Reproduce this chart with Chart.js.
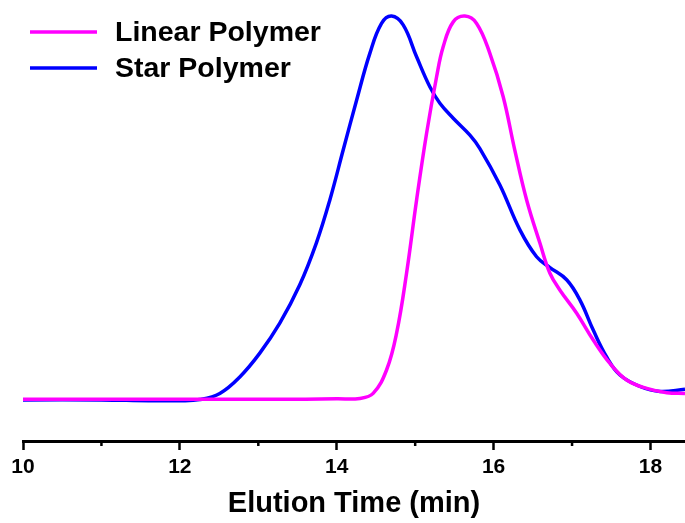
<!DOCTYPE html>
<html>
<head>
<meta charset="utf-8">
<script src="https://cdn.jsdelivr.net/npm/chart.js@4/dist/chart.umd.min.js"></script>
<style>
  html, body { margin: 0; padding: 0; background: #fff; }
  #wrap { width: 685px; height: 523px; position: relative; }
</style>
</head>
<body>
<div id="wrap"><canvas id="c" width="685" height="523"></canvas></div>
<script>
// ---- Data ----
const seriesLabels = ['Linear Polymer', 'Star Polymer'];
const seriesColors = ['#FF00FF', '#0000FF'];

const linearTime = [10.0, 11.0, 12.0, 13.0, 13.6, 14.0, 14.295, 14.464, 14.635, 14.763, 14.890, 15.018, 15.145, 15.273, 15.357, 15.485, 15.634, 15.783, 15.952, 16.122, 16.27, 16.421, 16.591, 16.718, 16.846, 17.059, 17.270, 17.483, 17.696, 17.952, 18.207, 18.44];
const linearSignal = [0.002, 0.002, 0.002, 0.002, 0.002, 0.003, 0.004, 0.017, 0.078, 0.174, 0.330, 0.521, 0.694, 0.842, 0.920, 0.985, 1.0, 0.981, 0.903, 0.790, 0.651, 0.521, 0.408, 0.330, 0.286, 0.226, 0.156, 0.095, 0.052, 0.030, 0.019, 0.017];

const starTime = [10.0, 11.0, 11.6, 12.0, 12.254, 12.509, 12.764, 13.019, 13.274, 13.529, 13.742, 13.912, 14.082, 14.253, 14.422, 14.571, 14.699, 14.847, 15.018, 15.187, 15.315, 15.485, 15.698, 15.825, 16.080, 16.335, 16.548, 16.718, 16.931, 17.101, 17.270, 17.441, 17.611, 17.866, 18.121, 18.44];
const starSignal = [0.0, 0.0, -0.002, -0.002, 0.001, 0.017, 0.060, 0.122, 0.200, 0.300, 0.410, 0.521, 0.651, 0.781, 0.903, 0.981, 1.0, 0.977, 0.894, 0.816, 0.773, 0.734, 0.690, 0.655, 0.560, 0.443, 0.373, 0.345, 0.313, 0.260, 0.182, 0.112, 0.065, 0.035, 0.022, 0.028];

const majorTicks = [10, 12, 14, 16, 18];
const minorTicks = [11, 13, 15, 17];
const xTitle = 'Elution Time (min)';

const FONT = '"Liberation Sans", Arial, Helvetica, sans-serif';

function pts(xs, ys) { return xs.map((x, i) => ({ x: x, y: ys[i] })); }

const minorTickPlugin = {
  id: 'minorTicks',
  afterDraw(chart) {
    const ctx = chart.ctx;
    const xs = chart.scales.x;
    const y0 = chart.chartArea.bottom;
    ctx.save();
    ctx.strokeStyle = '#000';
    ctx.lineWidth = 2.5;
    minorTicks.forEach(v => {
      const px = xs.getPixelForValue(v);
      ctx.beginPath();
      ctx.moveTo(px, y0);
      ctx.lineTo(px, y0 + 5);
      ctx.stroke();
    });
    ctx.restore();
  }
};

const legendPlugin = {
  id: 'customLegend',
  afterDraw(chart) {
    const ctx = chart.ctx;
    ctx.save();
    chart.data.datasets.forEach((ds, i) => {
      const y = 32 + i * 36;
      ctx.strokeStyle = ds.borderColor;
      ctx.lineWidth = 3.5;
      ctx.beginPath();
      ctx.moveTo(30, y);
      ctx.lineTo(97, y);
      ctx.stroke();
      ctx.fillStyle = '#000';
      ctx.font = 'bold 28.5px ' + FONT;
      ctx.textBaseline = 'middle';
      ctx.textAlign = 'left';
      ctx.fillText(ds.label, 115, y + 1);
    });
    ctx.restore();
  }
};

new Chart(document.getElementById('c'), {
  type: 'line',
  data: {
    datasets: [
      { label: seriesLabels[0], data: pts(linearTime, linearSignal), borderColor: seriesColors[0], backgroundColor: seriesColors[0], borderWidth: 3.5, pointRadius: 0, tension: 0.4, fill: false },
      { label: seriesLabels[1], data: pts(starTime, starSignal), borderColor: seriesColors[1], backgroundColor: seriesColors[1], borderWidth: 3.5, pointRadius: 0, tension: 0.4, fill: false }
    ]
  },
  options: {
    responsive: false,
    animation: false,
    devicePixelRatio: 1,
    layout: { padding: { left: 23, right: 0, top: 0, bottom: 0 } },
    plugins: {
      legend: { display: false },
      tooltip: { enabled: false },
      title: { display: false }
    },
    scales: {
      x: {
        type: 'linear',
        min: 10,
        max: 18.44,
        afterFit(scale) { scale.height = 82; },
        afterBuildTicks(scale) { scale.ticks = majorTicks.map(v => ({ value: v })); },
        ticks: {
          includeBounds: false,
          stepSize: 2,
          autoSkip: false,
          maxRotation: 0,
          padding: 5,
          color: '#000',
          font: { family: FONT, size: 21, weight: 'bold' }
        },
        grid: {
          drawOnChartArea: false,
          drawTicks: true,
          tickLength: 9,
          tickWidth: 2.5,
          tickColor: '#000'
        },
        border: { display: true, color: '#000', width: 3 },
        title: {
          display: true,
          text: xTitle,
          color: '#000',
          padding: { top: 2, bottom: 2 },
          font: { family: FONT, size: 29, weight: 'bold' }
        }
      },
      y: {
        display: false,
        min: -0.107,
        max: 1.042
      }
    }
  },
  plugins: [minorTickPlugin, legendPlugin]
});
</script>
</body>
</html>
